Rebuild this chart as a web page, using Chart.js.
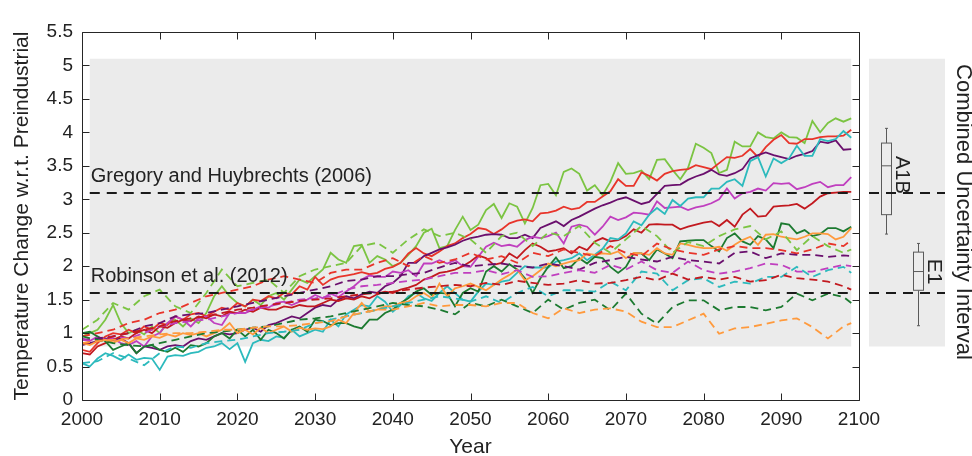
<!DOCTYPE html>
<html>
<head>
<meta charset="utf-8">
<title>Temperature change, A1B and E1</title>
<script src="https://cdn.jsdelivr.net/npm/chart.js@4.4.1/dist/chart.umd.min.js"></script>
<style>
    html, body { margin: 0; padding: 0; background: #ffffff; }
    #chart { display: block; }
</style>
</head>
<body>
<canvas id="chart" width="972" height="456"></canvas>
<script>
(function() {
    'use strict';

    // Years: annual for A1B runs, every second year for E1 runs
    var YEARS_A1B = [];
    for (var yr = 2000; yr <= 2099; yr++) { YEARS_A1B.push(yr); }
    var YEARS_E1 = [];
    for (yr = 2000; yr <= 2098; yr += 2) { YEARS_E1.push(yr); }
    YEARS_E1.push(2099);

    // Axis ticks
    var X_TICKS = [2000, 2010, 2020, 2030, 2040, 2050, 2060, 2070, 2080, 2090, 2100];
    var Y_TICKS = [0, 0.5, 1, 1.5, 2, 2.5, 3, 3.5, 4, 4.5, 5, 5.5];

    // A1B runs (solid)
    var A1B_GREEN = [
        0.95, 1.00, 1.05, 1.20, 1.42, 1.15, 1.00, 1.05, 0.98, 1.10,
        1.00, 1.15, 1.20, 1.10, 1.22, 1.15, 1.30, 1.55, 1.70, 1.55,
        1.45, 1.40, 1.50, 1.42, 1.55, 1.60, 1.50, 1.65, 1.80, 1.75,
        1.85, 1.95, 2.20, 2.10, 2.05, 2.30, 2.32, 2.05, 2.15, 2.10,
        2.00, 2.05, 2.17, 2.30, 2.50, 2.56, 2.27, 2.30, 2.54, 2.74,
        2.54, 2.62, 2.84, 2.93, 2.72, 2.94, 2.89, 2.64, 2.87, 3.21,
        3.23, 3.06, 3.41, 3.46, 3.38, 3.13, 3.21, 3.06, 3.26, 3.54,
        3.38, 3.39, 3.43, 3.30, 3.59, 3.60, 3.44, 3.30, 3.47, 3.83,
        3.77, 3.69, 3.39, 3.44, 3.86, 3.79, 3.79, 4.00, 3.93, 3.91,
        4.00, 3.93, 3.92, 3.84, 4.17, 4.00, 4.14, 4.21, 4.16, 4.21
    ];
    var A1B_RED = [
        0.75, 0.72, 0.85, 0.95, 1.00, 0.98, 1.05, 1.00, 1.10, 1.05,
        1.15, 1.12, 1.25, 1.20, 1.28, 1.30, 1.25, 1.32, 1.38, 1.35,
        1.45, 1.40, 1.50, 1.48, 1.55, 1.52, 1.60, 1.58, 1.70, 1.65,
        1.84, 1.72, 1.80, 1.84, 1.86, 1.88, 1.91, 1.88, 1.90, 1.96,
        1.99, 2.05, 2.19, 2.27, 2.19, 2.15, 2.22, 2.30, 2.34, 2.42,
        2.48, 2.57, 2.55, 2.48, 2.55, 2.64, 2.68, 2.70, 2.67, 2.79,
        2.80, 2.83, 2.89, 2.85, 2.87, 2.96, 2.96, 3.04, 3.12, 3.30,
        3.20, 3.20, 3.40, 3.35, 3.28, 3.38, 3.42, 3.44, 3.45, 3.51,
        3.48, 3.45, 3.54, 3.63, 3.62, 3.65, 3.75, 3.63, 3.78, 3.89,
        3.96, 3.84, 3.83, 3.90, 3.90, 3.93, 3.94, 3.94, 3.95, 4.04
    ];
    var A1B_PURPLE = [
        0.82, 0.85, 0.88, 0.92, 0.90, 0.92, 0.85, 0.70, 0.80, 0.78,
        0.75, 0.80, 0.82, 0.80, 0.88, 0.92, 0.90, 0.95, 1.00, 0.98,
        1.00, 1.05, 1.08, 1.02, 1.12, 1.15, 1.20, 1.25, 1.22, 1.30,
        1.38, 1.42, 1.40, 1.50, 1.55, 1.52, 1.58, 1.62, 1.60, 1.70,
        1.75, 1.85, 2.05, 2.05, 2.15, 2.20, 2.25, 2.28, 2.32, 2.38,
        2.42, 2.44, 2.47, 2.48, 2.47, 2.42, 2.42, 2.47, 2.42, 2.57,
        2.62, 2.67, 2.60, 2.69, 2.74, 2.80, 2.86, 2.91, 2.95, 3.00,
        3.03, 2.98, 2.93, 2.96, 3.08, 3.20, 3.21, 3.22, 3.29, 3.34,
        3.38, 3.44, 3.37, 3.35, 3.39, 3.45, 3.61, 3.66, 3.70, 3.66,
        3.63, 3.60, 3.65, 3.68, 3.72, 3.86, 3.84, 3.88, 3.74, 3.75
    ];
    var A1B_MAGENTA = [
        0.92, 0.88, 0.95, 0.90, 0.92, 0.85, 0.82, 0.88, 0.80, 0.95,
        1.00, 1.15, 1.25, 1.20, 1.10, 1.22, 1.25, 1.15, 1.12, 1.30,
        1.30, 1.30, 1.35, 1.40, 1.38, 1.45, 1.47, 1.42, 1.47, 1.50,
        1.57, 1.52, 1.59, 1.54, 1.62, 1.70, 1.80, 1.86, 1.84, 1.84,
        1.92, 1.90, 1.94, 1.85, 2.04, 2.04, 2.09, 2.04, 2.09, 2.00,
        1.99, 2.14, 2.29, 2.35, 2.30, 2.32, 2.29, 2.39, 2.44, 2.42,
        2.45, 2.50, 2.34, 2.59, 2.62, 2.59, 2.47, 2.59, 2.74, 2.69,
        2.73, 2.80, 2.79, 2.77, 2.97, 2.87, 2.88, 2.89, 2.84, 2.88,
        2.90, 2.94, 3.00, 3.16, 3.01, 3.09, 3.11, 3.16, 3.13, 3.24,
        3.23, 3.24, 3.15, 3.18, 3.23, 3.26, 3.18, 3.21, 3.21, 3.33
    ];
    var A1B_CYAN = [
        0.55, 0.50, 0.62, 0.70, 0.66, 0.60, 0.68, 0.60, 0.63, 0.62,
        0.45, 0.65, 0.67, 0.66, 0.70, 0.72, 0.78, 0.80, 0.85, 0.76,
        0.85, 0.57, 0.85, 0.90, 0.88, 0.95, 0.93, 1.05, 0.95, 1.00,
        1.05, 1.02, 1.20, 1.10, 1.28, 1.35, 1.42, 1.40, 1.55, 1.47,
        1.32, 1.42, 1.55, 1.60, 1.52, 1.48, 1.60, 1.70, 1.60, 1.50,
        1.47, 1.62, 1.74, 1.72, 1.77, 1.79, 1.90, 2.00, 1.98, 1.98,
        1.98, 2.07, 2.09, 2.12, 2.19, 2.09, 2.17, 2.26, 2.42, 2.40,
        2.49, 2.67, 2.61, 2.77, 2.87, 2.78, 2.99, 2.90, 3.01, 3.03,
        3.03, 3.16, 3.16, 3.26, 3.30, 3.20, 3.57, 3.63, 3.34, 3.61,
        3.54, 3.61, 3.80, 3.65, 3.65, 3.90, 3.87, 3.90, 4.02, 3.92
    ];
    var A1B_CRIMSON = [
        0.70, 0.68, 0.80, 0.85, 0.90, 0.95, 0.92, 1.00, 1.05, 1.00,
        1.10, 1.08, 1.15, 1.20, 1.18, 1.25, 1.22, 1.28, 1.25, 1.32,
        1.30, 1.35, 1.32, 1.38, 1.35, 1.35, 1.40, 1.38, 1.42, 1.40,
        1.40, 1.45, 1.50, 1.48, 1.52, 1.50, 1.55, 1.52, 1.58, 1.62,
        1.60, 1.65, 1.68, 1.72, 1.80, 1.84, 1.90, 1.92, 1.95, 2.00,
        2.07, 2.16, 2.12, 2.02, 2.05, 2.19, 2.12, 2.24, 2.34, 2.29,
        2.22, 2.24, 2.27, 2.19, 2.29, 2.24, 2.37, 2.42, 2.37, 2.39,
        2.45, 2.55, 2.50, 2.62, 2.63, 2.62, 2.62, 2.55, 2.59, 2.62,
        2.65, 2.67, 2.60, 2.69, 2.59, 2.77, 2.86, 2.74, 2.75, 2.89,
        2.90, 2.91, 2.93, 2.86, 2.94, 3.04, 3.09, 3.10, 3.11, 3.11
    ];
    var A1B_DKGREEN = [
        1.00, 1.02, 0.95, 0.88, 0.75, 0.80, 0.85, 0.70, 0.80, 0.82,
        0.75, 0.72, 0.78, 0.72, 0.82, 0.80, 0.85, 0.95, 1.00, 0.92,
        1.05, 0.95, 1.05, 0.90, 1.05, 1.00, 0.92, 1.05, 1.10, 1.02,
        1.20, 1.18, 1.12, 1.15, 1.15, 1.10, 1.07, 1.20, 1.20, 1.30,
        1.35, 1.45, 1.52, 1.62, 1.67, 1.57, 1.60, 1.59, 1.40, 1.60,
        1.67, 1.62, 1.92, 2.00, 1.92, 2.03, 1.95, 1.82, 1.60, 1.82,
        1.99, 2.13, 1.97, 2.00, 2.12, 2.04, 2.14, 2.12, 1.99, 1.90,
        1.99, 2.19, 2.19, 2.09, 2.25, 2.19, 2.12, 2.37, 2.38, 2.39,
        2.39, 2.30, 2.22, 2.42, 2.49, 2.37, 2.32, 2.45, 2.40, 2.27,
        2.64, 2.62, 2.49, 2.54, 2.45, 2.48, 2.57, 2.57, 2.52, 2.59
    ];
    var A1B_ORANGE = [
        0.85, 0.82, 0.88, 0.90, 0.86, 0.90, 0.85, 0.92, 0.90, 0.95,
        0.93, 0.98, 0.95, 1.00, 0.97, 1.00, 0.95, 1.00, 1.05, 1.15,
        1.00, 1.05, 0.98, 1.08, 1.00, 1.05, 1.10, 1.02, 1.08, 1.05,
        1.07, 1.06, 1.10, 1.20, 1.15, 1.30, 1.45, 1.32, 1.35, 1.40,
        1.40, 1.45, 1.47, 1.55, 1.60, 1.52, 1.74, 1.55, 1.67, 1.70,
        1.74, 1.69, 1.64, 1.72, 1.80, 1.87, 1.95, 1.79, 1.85, 1.94,
        2.04, 2.00, 2.04, 2.07, 2.09, 2.19, 2.17, 2.19, 2.18, 2.22,
        2.12, 2.20, 2.19, 2.17, 2.27, 2.19, 2.17, 2.34, 2.32, 2.29,
        2.27, 2.27, 2.29, 2.23, 2.32, 2.39, 2.44, 2.32, 2.47, 2.48,
        2.44, 2.42, 2.40, 2.44, 2.49, 2.49, 2.48, 2.40, 2.44, 2.57
    ];

    // E1 runs (dashed)
    var E1_GREEN = [
        1.05, 1.20, 1.45, 1.35, 1.55, 1.65, 1.40, 1.30, 1.60, 1.95,
        1.70, 1.75, 1.80, 1.60, 1.85, 1.95, 2.00, 2.05, 2.30, 2.35,
        2.20, 2.40, 2.55, 2.45, 2.50, 2.40, 2.20, 2.45, 2.50, 2.30,
        2.50, 2.45, 2.60, 2.35, 2.20, 2.40, 2.60, 2.45, 2.20, 2.36,
        2.30, 2.45, 2.55, 2.60, 2.40, 2.52, 2.24, 2.45, 2.30, 2.20, 2.25
    ];
    var E1_RED = [
        0.95, 1.00, 1.05, 1.15, 1.20, 1.30, 1.35, 1.45, 1.55, 1.60,
        1.65, 1.70, 1.80, 1.85, 1.80, 1.75, 1.90, 1.95, 1.95, 2.05,
        2.12, 2.00, 2.15, 2.05, 2.10, 2.20, 2.10, 2.15, 2.05, 2.20,
        2.15, 2.25, 2.20, 2.15, 2.30, 2.20, 2.15, 2.34, 2.25, 2.20,
        2.17, 2.25, 2.30, 2.27, 2.27, 2.24, 2.19, 2.25, 2.34, 2.30, 2.39
    ];
    var E1_PURPLE = [
        0.90, 0.92, 0.95, 1.00, 1.10, 1.15, 1.25, 1.28, 1.30, 1.35,
        1.40, 1.45, 1.50, 1.55, 1.60, 1.65, 1.70, 1.78, 1.80, 1.85,
        1.85, 1.88, 1.90, 1.98, 2.05, 2.00, 2.02, 2.04, 2.00, 1.98,
        2.04, 2.00, 1.95, 2.05, 2.09, 2.14, 2.10, 2.07, 2.14, 2.09,
        2.07, 2.04, 2.20, 2.22, 2.12, 2.19, 2.17, 2.17, 2.14, 2.16, 2.15
    ];
    var E1_MAGENTA = [
        0.90, 0.88, 0.95, 0.92, 1.00, 1.10, 1.15, 1.18, 1.20, 1.25,
        1.30, 1.35, 1.40, 1.45, 1.50, 1.52, 1.55, 1.65, 1.70, 1.72,
        1.75, 1.78, 1.80, 1.85, 1.90, 1.90, 1.94, 1.88, 1.94, 1.84,
        1.85, 1.90, 1.94, 1.90, 2.02, 1.95, 2.07, 1.94, 1.90, 2.07,
        1.94, 1.89, 1.92, 1.97, 2.04, 2.02, 1.92, 1.92, 1.97, 2.02, 2.00
    ];
    var E1_CYAN = [
        0.55, 0.58, 0.70, 0.62, 0.52, 0.70, 0.80, 0.78, 0.85, 0.88,
        0.90, 0.95, 1.00, 1.02, 1.05, 1.15, 1.20, 1.25, 1.30, 1.35,
        1.40, 1.45, 1.50, 1.55, 1.52, 1.47, 1.55, 1.45, 1.60, 1.69,
        1.55, 1.64, 1.64, 1.62, 1.77, 1.64, 1.92, 1.89, 1.64, 1.79,
        1.82, 1.69, 1.77, 1.74, 1.84, 1.84, 1.99, 1.84, 1.94, 1.99, 1.90
    ];
    var E1_CRIMSON = [
        0.85, 0.88, 0.95, 1.00, 1.05, 1.10, 1.18, 1.22, 1.25, 1.30,
        1.35, 1.38, 1.42, 1.45, 1.48, 1.50, 1.52, 1.55, 1.58, 1.60,
        1.62, 1.65, 1.68, 1.70, 1.72, 1.70, 1.75, 1.72, 1.78, 1.75,
        1.72, 1.74, 1.79, 1.74, 1.75, 1.79, 1.84, 1.79, 1.89, 1.80,
        1.84, 1.80, 1.84, 1.77, 1.79, 1.87, 1.82, 1.80, 1.77, 1.70, 1.65
    ];
    var E1_DKGREEN = [
        0.95, 0.90, 0.85, 0.82, 0.80, 0.85, 0.90, 0.95, 1.00, 1.02,
        1.05, 1.08, 1.10, 1.15, 1.20, 1.22, 1.25, 1.30, 1.35, 1.40,
        1.45, 1.42, 1.40, 1.35, 1.28, 1.45, 1.40, 1.50, 1.40, 1.30,
        1.50, 1.35, 1.45, 1.50, 1.34, 1.59, 1.29, 1.14, 1.39, 1.49,
        1.49, 1.34, 1.39, 1.39, 1.34, 1.39, 1.59, 1.49, 1.59, 1.54, 1.45
    ];
    var E1_ORANGE = [
        0.85, 0.88, 0.90, 0.92, 0.95, 0.98, 1.00, 1.00, 1.02, 1.05,
        1.05, 1.08, 1.10, 1.10, 1.12, 1.15, 1.18, 1.25, 1.30, 1.35,
        1.35, 1.40, 1.45, 1.40, 1.42, 1.42, 1.40, 1.45, 1.45, 1.30,
        1.22, 1.37, 1.30, 1.35, 1.37, 1.32, 1.17, 1.09, 1.09, 1.19,
        1.29, 0.99, 1.07, 1.09, 1.14, 1.19, 1.22, 1.09, 0.92, 1.10, 1.15
    ];

    // Shaded windows and reference levels
    var BAND_X = [2001, 2099];
    var BAND_Y = [0.8, 5.1];
    var REF_LEVELS = [3.1, 1.6];
    var REF_LABELS = ['Gregory and Huybrechts (2006)', 'Robinson et al. (2012)'];

    // Combined uncertainty interval: [low whisker, q1, median, q3, high whisker]
    var BOX_NAMES = ['A1B', 'E1'];
    var BOX_STATS = [
        [2.48, 2.77, 3.50, 3.84, 4.06],
        [1.11, 1.64, 1.92, 2.21, 2.34]
    ];

    var COLORS = {
        green: '#7bc442',
        red: '#e8342a',
        purple: '#6a0f6d',
        magenta: '#c03fbf',
        cyan: '#2cbabd',
        crimson: '#c2191f',
        dkgreen: '#1c7a30',
        orange: '#ff9a3d'
    };
    var TEXT = '#222222';
    var FONT = '"Liberation Sans", Arial, Helvetica, sans-serif';

    function points(years, values) {
        return values.map(function(v, i) {
            return { x: years[i], y: v };
        });
    }

    function line(label, years, values, color, dashed) {
        return {
            label: label,
            data: points(years, values),
            borderColor: color,
            backgroundColor: color,
            borderWidth: 1.8,
            borderDash: dashed ? [8, 5] : [],
            pointRadius: 0,
            tension: 0,
            fill: false
        };
    }

    var datasets = [
        line('E1 orange', YEARS_E1, E1_ORANGE, COLORS.orange, true),
        line('E1 dark green', YEARS_E1, E1_DKGREEN, COLORS.dkgreen, true),
        line('E1 crimson', YEARS_E1, E1_CRIMSON, COLORS.crimson, true),
        line('E1 cyan', YEARS_E1, E1_CYAN, COLORS.cyan, true),
        line('E1 magenta', YEARS_E1, E1_MAGENTA, COLORS.magenta, true),
        line('E1 purple', YEARS_E1, E1_PURPLE, COLORS.purple, true),
        line('E1 red', YEARS_E1, E1_RED, COLORS.red, true),
        line('E1 green', YEARS_E1, E1_GREEN, COLORS.green, true),
        line('A1B orange', YEARS_A1B, A1B_ORANGE, COLORS.orange, false),
        line('A1B dark green', YEARS_A1B, A1B_DKGREEN, COLORS.dkgreen, false),
        line('A1B cyan', YEARS_A1B, A1B_CYAN, COLORS.cyan, false),
        line('A1B crimson', YEARS_A1B, A1B_CRIMSON, COLORS.crimson, false),
        line('A1B magenta', YEARS_A1B, A1B_MAGENTA, COLORS.magenta, false),
        line('A1B purple', YEARS_A1B, A1B_PURPLE, COLORS.purple, false),
        line('A1B red', YEARS_A1B, A1B_RED, COLORS.red, false),
        line('A1B green', YEARS_A1B, A1B_GREEN, COLORS.green, false)
    ];

    // Side panel geometry, in pixels to the right of the plot area
    var PANEL = { left: 10, right: 86, boxes: [27, 59], labels: [43, 75], half: 5, title: 104 };

    /**
     * Background bands, reference lines, box frame with inward ticks
     * and the uncertainty panel on the right
     */
    var decorations = {
        id: 'decorations',
        beforeDatasetsDraw: function(chart) {
            var ctx = chart.ctx;
            var x = chart.scales.x;
            var y = chart.scales.y;
            var area = chart.chartArea;
            var top = y.getPixelForValue(BAND_Y[1]);
            var bottom = y.getPixelForValue(BAND_Y[0]);

            ctx.save();
            ctx.fillStyle = '#ebebeb';
            var x0 = x.getPixelForValue(BAND_X[0]);
            var x1 = x.getPixelForValue(BAND_X[1]);
            ctx.fillRect(x0, top, x1 - x0, bottom - top);
            ctx.fillRect(area.right + PANEL.left, top, PANEL.right - PANEL.left, bottom - top);
            ctx.restore();
        },
        afterDatasetsDraw: function(chart) {
            var ctx = chart.ctx;
            var x = chart.scales.x;
            var y = chart.scales.y;
            var area = chart.chartArea;
            var x0 = x.getPixelForValue(BAND_X[0]);
            var x1 = x.getPixelForValue(BAND_X[1]);

            ctx.save();

            // box plots
            BOX_STATS.forEach(function(s, i) {
                var cx = Math.round(area.right + PANEL.boxes[i]) + 0.5;
                var h = PANEL.half;
                var yLo = y.getPixelForValue(s[0]);
                var yQ1 = y.getPixelForValue(s[1]);
                var yMed = y.getPixelForValue(s[2]);
                var yQ3 = y.getPixelForValue(s[3]);
                var yHi = y.getPixelForValue(s[4]);
                ctx.strokeStyle = '#5a5a5a';
                ctx.lineWidth = 1;
                ctx.setLineDash([]);
                ctx.beginPath();
                ctx.moveTo(cx, yLo); ctx.lineTo(cx, yQ1);
                ctx.moveTo(cx, yQ3); ctx.lineTo(cx, yHi);
                ctx.moveTo(cx - 1.5, yLo); ctx.lineTo(cx + 1.5, yLo);
                ctx.moveTo(cx - 1.5, yHi); ctx.lineTo(cx + 1.5, yHi);
                ctx.stroke();
                ctx.fillStyle = '#ececec';
                ctx.fillRect(cx - h, yQ3, 2 * h, yQ1 - yQ3);
                ctx.strokeRect(cx - h, yQ3, 2 * h, yQ1 - yQ3);
                ctx.beginPath();
                ctx.moveTo(cx - h, yMed); ctx.lineTo(cx + h, yMed);
                ctx.stroke();
            });

            // reference levels
            ctx.strokeStyle = '#1a1a1a';
            ctx.lineWidth = 2;
            ctx.setLineDash([10, 7]);
            REF_LEVELS.forEach(function(v) {
                var py = Math.round(y.getPixelForValue(v));
                ctx.beginPath();
                ctx.moveTo(x0, py); ctx.lineTo(x1, py);
                ctx.moveTo(area.right + PANEL.left, py); ctx.lineTo(area.right + PANEL.right, py);
                ctx.stroke();
            });
            ctx.setLineDash([]);

            ctx.fillStyle = TEXT;
            ctx.font = '20px ' + FONT;
            ctx.textAlign = 'left';
            ctx.textBaseline = 'alphabetic';
            REF_LEVELS.forEach(function(v, i) {
                ctx.fillText(REF_LABELS[i], x0 + 1, y.getPixelForValue(v) - 11);
            });

            // box labels and panel title, rotated clockwise
            function vertical(text, px, py, size) {
                ctx.save();
                ctx.translate(px, py);
                ctx.rotate(Math.PI / 2);
                ctx.font = size + 'px ' + FONT;
                ctx.textAlign = 'center';
                ctx.textBaseline = 'middle';
                ctx.fillText(text, 0, 0);
                ctx.restore();
            }
            vertical(BOX_NAMES[0], area.right + PANEL.labels[0], y.getPixelForValue(BOX_STATS[0][2]) + 9, 20);
            vertical(BOX_NAMES[1], area.right + PANEL.labels[1], y.getPixelForValue(BOX_STATS[1][2]), 21);
            vertical('Combined Uncertainty Interval', area.right + PANEL.title, (area.top + area.bottom) / 2 - 4, 22);

            // frame and inward ticks
            var L = area.left + 0.5, R = area.right + 0.5, T = area.top + 0.5, B = area.bottom + 0.5;
            ctx.strokeStyle = '#262626';
            ctx.lineWidth = 1;
            ctx.beginPath();
            X_TICKS.forEach(function(t) {
                var px = Math.round(x.getPixelForValue(t)) + 0.5;
                ctx.moveTo(px, B); ctx.lineTo(px, B - 7);
                ctx.moveTo(px, T); ctx.lineTo(px, T + 7);
            });
            Y_TICKS.forEach(function(t) {
                var py = Math.round(y.getPixelForValue(t)) + 0.5;
                ctx.moveTo(L, py); ctx.lineTo(L + 7, py);
                ctx.moveTo(R, py); ctx.lineTo(R - 7, py);
            });
            ctx.stroke();
            ctx.beginPath();
            ctx.rect(L, T, R - L, B - T);
            ctx.stroke();

            ctx.restore();
        }
    };

    new Chart(document.getElementById('chart'), {
        type: 'line',
        data: { datasets: datasets },
        options: {
            responsive: false,
            animation: false,
            devicePixelRatio: 1,
            layout: { padding: { left: 0, right: 113, top: 32, bottom: 0 } },
            plugins: {
                legend: { display: false },
                tooltip: { enabled: false }
            },
            scales: {
                x: {
                    type: 'linear',
                    min: X_TICKS[0],
                    max: X_TICKS[X_TICKS.length - 1],
                    afterBuildTicks: function(scale) {
                        scale.ticks = X_TICKS.map(function(v) { return { value: v }; });
                    },
                    afterFit: function(scale) { scale.height = 56; },
                    grid: { display: false, drawTicks: false },
                    border: { display: false },
                    ticks: {
                        padding: 8,
                        maxRotation: 0,
                        autoSkip: false,
                        color: TEXT,
                        font: { family: FONT, size: 19 },
                        callback: function(v) { return String(v); }
                    },
                    title: {
                        display: true,
                        text: 'Year',
                        color: TEXT,
                        font: { family: FONT, size: 21 },
                        padding: { top: 0, bottom: -3.5 }
                    }
                },
                y: {
                    type: 'linear',
                    min: Y_TICKS[0],
                    max: Y_TICKS[Y_TICKS.length - 1],
                    afterBuildTicks: function(scale) {
                        scale.ticks = Y_TICKS.map(function(v) { return { value: v }; });
                    },
                    afterFit: function(scale) { scale.width = 82; },
                    grid: { display: false, drawTicks: false },
                    border: { display: false },
                    ticks: {
                        padding: 9,
                        color: TEXT,
                        font: { family: FONT, size: 19 },
                        callback: function(v) { return String(v); }
                    },
                    title: {
                        display: true,
                        text: 'Temperature Change w.r.t. Preindustrial',
                        color: TEXT,
                        font: { family: FONT, size: 21 },
                        padding: { top: 9.5, bottom: 0 }
                    }
                }
            }
        },
        plugins: [decorations]
    });
})();
</script>
</body>
</html>
